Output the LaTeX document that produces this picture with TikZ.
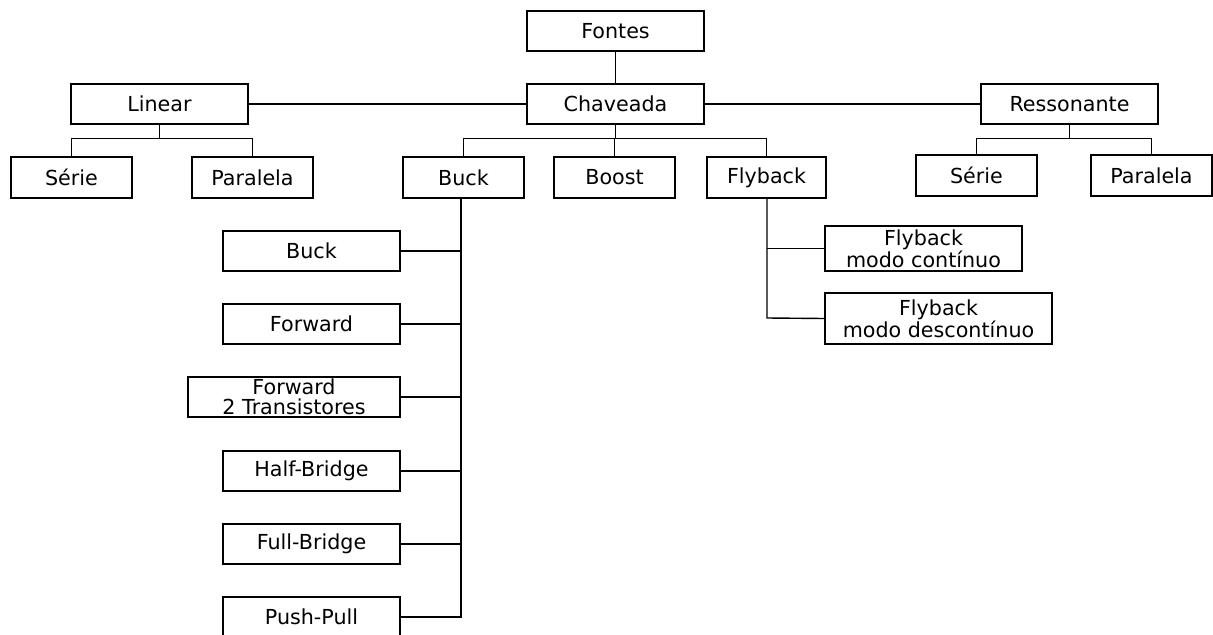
\documentclass[tikz,border=0pt]{standalone}
\usepackage{fontspec}
\setmainfont{DejaVu Sans}
\begin{document}
\begin{tikzpicture}[x=0.75pt,y=-0.75pt,
  box/.style={draw=black,line width=1.05pt,fill=white,inner sep=0pt,align=center,
    font=\fontsize{15.5}{15}\selectfont,text=black},
  wire/.style={draw=black,line width=1.05pt}]
\useasboundingbox (0,0) rectangle (1213,635);
% top level
\node[box,minimum width=177*0.75pt,minimum height=40*0.75pt] (fontes) at (615.5,31) {Fontes};
\node[box,minimum width=177*0.75pt,minimum height=40*0.75pt] (chav) at (615.5,104) {Chaveada};
\node[box,minimum width=177*0.75pt,minimum height=40*0.75pt] (linear) at (159.5,104) {Linear};
\node[box,minimum width=177*0.75pt,minimum height=40*0.75pt] (resson) at (1069.5,104) {Ressonante};
% second level
\node[box,minimum width=121*0.75pt,minimum height=41*0.75pt] (serieL) at (71.5,177.5) {Série};
\node[box,minimum width=121*0.75pt,minimum height=41*0.75pt] (paralL) at (252.5,177.5) {Paralela};
\node[box,minimum width=121*0.75pt,minimum height=41*0.75pt] (buck) at (463.5,177.5) {Buck};
\node[box,minimum width=121*0.75pt,minimum height=41*0.75pt] (boost) at (614.5,177.5) {Boost};
\node[box,minimum width=119*0.75pt,minimum height=41*0.75pt] (flyback) at (766.5,177.5) {Flyback};
\node[box,minimum width=121*0.75pt,minimum height=41*0.75pt] (serieR) at (976.5,175.5) {Série};
\node[box,minimum width=121*0.75pt,minimum height=41*0.75pt] (paralR) at (1151.5,175.5) {Paralela};
% buck family
\node[box,minimum width=177*0.75pt,minimum height=40*0.75pt] (buck2) at (311.5,251) {Buck};
\node[box,minimum width=177*0.75pt,minimum height=40*0.75pt] (forward) at (311.5,324) {Forward};
\node[box,minimum width=212*0.75pt,minimum height=40*0.75pt] (fwd2) at (294,397) {Forward\\2 Transistores};
\node[box,minimum width=177*0.75pt,minimum height=40*0.75pt] (half) at (311.5,471) {Half-Bridge};
\node[box,minimum width=177*0.75pt,minimum height=40*0.75pt] (full) at (311.5,544) {Full-Bridge};
\node[box,minimum width=177*0.75pt,minimum height=40*0.75pt] (push) at (311.5,617) {Push-Pull};
% flyback family
\node[box,minimum width=197*0.75pt,minimum height=45*0.75pt] (flyC) at (923.5,248.5) {Flyback\\modo contínuo};
\node[box,minimum width=227*0.75pt,minimum height=51*0.75pt] (flyD) at (938.5,318.5) {Flyback\\modo descontínuo};
% trunks
\coordinate (bt) at (461,198);
\coordinate (bb) at (461,617);
\coordinate (ft) at (767,198);
\coordinate (fb) at (767,318);
% connectors
\draw[wire] (fontes.south) -- (chav.north);
\draw[wire] (linear.east) -- (chav.west);
\draw[wire] (chav.east) -- (resson.west);
\draw[wire] (chav.south) -- ++(0,14) -| (buck.north);
\draw[wire] (chav.south) ++(0,14) -| (boost.north);
\draw[wire] (chav.south) ++(0,14) -| (flyback.north);
\draw[wire] (linear.south) -- ++(0,14) -| (serieL.north);
\draw[wire] (linear.south) ++(0,14) -| (paralL.north);
\draw[wire] (resson.south) -- ++(0,14) -| (serieR.north);
\draw[wire] (resson.south) ++(0,14) -| (paralR.north);
\draw[wire] (bt) -- (bb) -- (push.east);
\draw[wire] (buck2.east) -- (buck2.east -| bt);
\draw[wire] (forward.east) -- (forward.east -| bt);
\draw[wire] (fwd2.east) -- (fwd2.east -| bt);
\draw[wire] (half.east) -- (half.east -| bt);
\draw[wire] (full.east) -- (full.east -| bt);
\draw[wire] (ft) -- (fb) -- (flyD.west);
\draw[wire] (flyC.west) -- (flyC.west -| ft);
\end{tikzpicture}
\end{document}
